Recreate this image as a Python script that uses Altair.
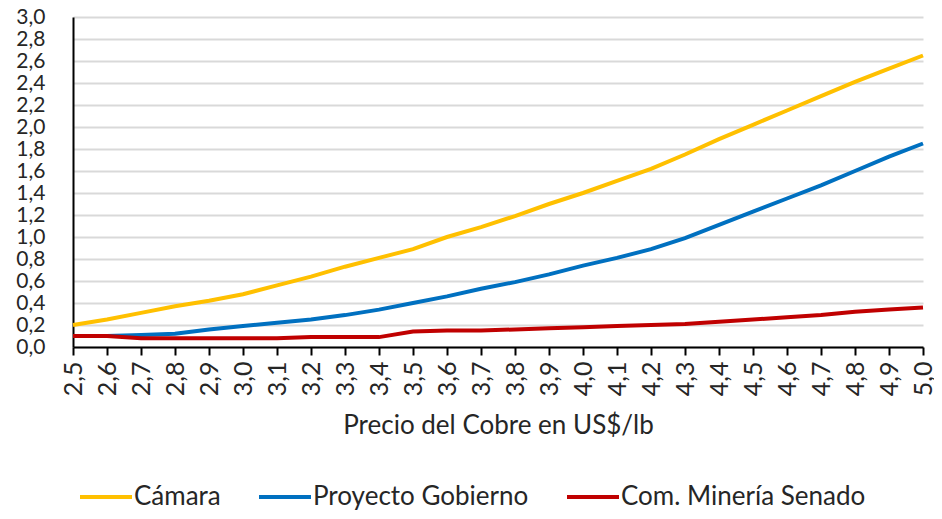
import altair as alt
import pandas as pd

precios = [2.5, 2.6, 2.7, 2.8, 2.9, 3.0, 3.1, 3.2, 3.3, 3.4, 3.5, 3.6, 3.7,
           3.8, 3.9, 4.0, 4.1, 4.2, 4.3, 4.4, 4.5, 4.6, 4.7, 4.8, 4.9, 5.0]

camara = [0.20, 0.25, 0.31, 0.37, 0.42, 0.48, 0.56, 0.64, 0.73, 0.81, 0.89, 1.00, 1.09,
          1.19, 1.30, 1.40, 1.51, 1.62, 1.75, 1.89, 2.02, 2.15, 2.28, 2.41, 2.53, 2.65]
gobierno = [0.10, 0.10, 0.11, 0.12, 0.16, 0.19, 0.22, 0.25, 0.29, 0.34, 0.40, 0.46, 0.53,
            0.59, 0.66, 0.74, 0.81, 0.89, 0.99, 1.11, 1.23, 1.35, 1.47, 1.60, 1.73, 1.85]
senado = [0.10, 0.10, 0.08, 0.08, 0.08, 0.08, 0.08, 0.09, 0.09, 0.09, 0.14, 0.15, 0.15,
          0.16, 0.17, 0.18, 0.19, 0.20, 0.21, 0.23, 0.25, 0.27, 0.29, 0.32, 0.34, 0.36]

series = ["Cámara", "Proyecto Gobierno", "Com. Minería Senado"]
colores = ["#FFC000", "#0070C0", "#C00000"]
y_ticks = [0.0, 0.2, 0.4, 0.6, 0.8, 1.0, 1.2, 1.4, 1.6, 1.8, 2.0, 2.2, 2.4, 2.6, 2.8, 3.0]

rows = []
for name, vals in zip(series, [camara, gobierno, senado]):
    for p, v in zip(precios, vals):
        rows.append({"precio": p, "valor": v, "serie": name})
df = pd.DataFrame(rows)

FONT = "Lato, sans-serif"
comma = "replace(format(datum.value, '.1f'), '.', ',')"

chart = alt.Chart(df).mark_line(strokeWidth=4).encode(
    x=alt.X("precio:Q",
            scale=alt.Scale(domain=[2.5, 5.0], nice=False, zero=False),
            axis=alt.Axis(values=precios, labelExpr=comma, labelAngle=270,
                          labelFontSize=25, labelOverlap=False,
                          title="Precio del Cobre en US$/lb", grid=False,
                          domainColor="#000000", domainWidth=2,
                          tickColor="#000000", tickWidth=2, tickSize=8,
                          labelPadding=6, titlePadding=17)),
    y=alt.Y("valor:Q",
            scale=alt.Scale(domain=[0, 3.0], nice=False),
            axis=alt.Axis(values=y_ticks, labelExpr=comma, title=None,
                          labelFontSize=21, labelOverlap=False,
                          grid=True, gridColor="#D9D9D9", gridWidth=2,
                          domainColor="#000000", domainWidth=2,
                          ticks=False, labelPadding=28)),
    color=alt.Color("serie:N",
                    scale=alt.Scale(domain=series, range=colores),
                    sort=series,
                    legend=alt.Legend(title=None, orient="none", direction="horizontal",
                                      legendX=5, legendY=452,
                                      symbolType="stroke", symbolSize=2704,
                                      symbolStrokeWidth=4, labelOffset=0,
                                      labelLimit=400, columnPadding=30)),
    order=alt.Order("precio:Q"),
).properties(
    width=850, height=330,
    background="white",
    autosize=alt.AutoSizeParams(type="none"),
    padding={"left": 65, "top": 9, "right": 11, "bottom": 164},
).configure_view(stroke=None).configure_axis(
    labelFont=FONT, titleFont=FONT, titleFontSize=26,
    labelColor="#262626", titleColor="#262626", titleFontWeight="normal",
).configure_legend(
    labelFont=FONT, labelFontSize=26, labelColor="#262626",
)

chart.save("out.html", embed_options={"renderer": "svg", "actions": False})
